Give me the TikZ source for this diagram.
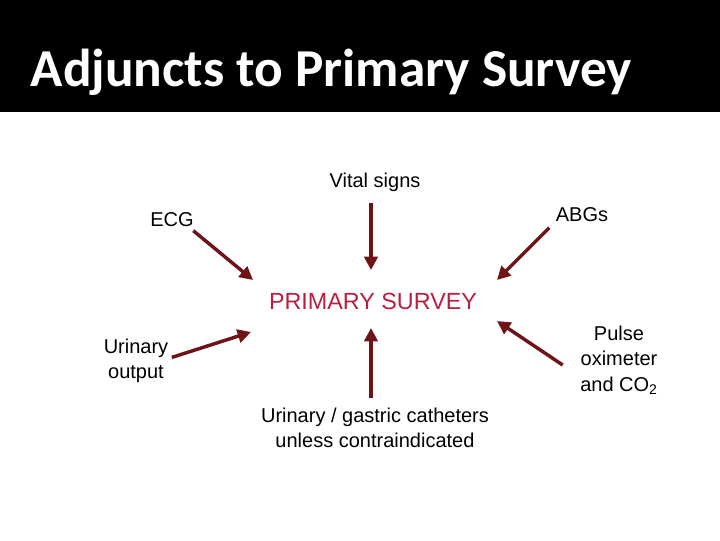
\documentclass[tikz,border=0pt]{standalone}
\usepackage{fontspec}
\setmainfont{Liberation Sans}
\newfontfamily\titlefont{Carlito}
\usetikzlibrary{arrows.meta, positioning}
\definecolor{arrowred}{RGB}{110, 20, 25}
\definecolor{surveyred}{RGB}{185, 30, 65}

\begin{document}
\begin{tikzpicture}[x=0.75pt, y=-0.75pt,
  label/.style={font=\fontsize{15}{19}\selectfont, align=center, inner sep=1pt},
  feed/.style={draw=arrowred, line width=2.6pt, -{Triangle[length=10pt, width=10pt]}}]
  \useasboundingbox (0,0) rectangle (720,540);
  % Title band
  \fill[black] (0,0) rectangle (720,112);
  \node[anchor=base west, text=white, font=\titlefont\bfseries\fontsize{40}{48}\selectfont] (title) at (26,86) {Adjuncts to Primary Survey};

  % Labels
  \node[label] (vital) at (375,182) {Vital signs};
  \node[label] (ecg) at (172,220) {ECG};
  \node[label] (abgs) at (582,215) {ABGs};
  \node[label, text=surveyred, font=\fontsize{17.5}{21}\selectfont] (survey) at (373,301) {PRIMARY SURVEY};
  \node[label] (urinary) at (136,361) {Urinary\\output};
  \node[label] (cath) at (375,428) {Urinary / gastric catheters\\unless contraindicated};
  \node[label] (pulse) at (619,360) {Pulse\\oximeter\\and CO\textsubscript{2}};

  % Arrow ends
  \coordinate (vitalEnd) at (371,270);
  \coordinate (ecgEnd) at (253,280);
  \coordinate (abgsEnd) at (497,280);
  \coordinate (urinaryEnd) at (251,332);
  \coordinate (cathEnd) at (371,328);
  \coordinate (pulseEnd) at (497,321);

  % Arrows
  \draw[feed] (vital.south -| vitalEnd) ++(0,10) -- (vitalEnd);
  \draw[feed] (ecg.south east) ++(-2,2) -- (ecgEnd);
  \draw[feed] (abgs.south west) ++(-5,4) -- (abgsEnd);
  \draw[feed] (urinary.north east) ++(2,20) -- (urinaryEnd);
  \draw[feed] (cath.north -| cathEnd) ++(0,-8) -- (cathEnd);
  \draw[feed] (pulse.west) ++(-16,5) -- (pulseEnd);
\end{tikzpicture}
\end{document}
